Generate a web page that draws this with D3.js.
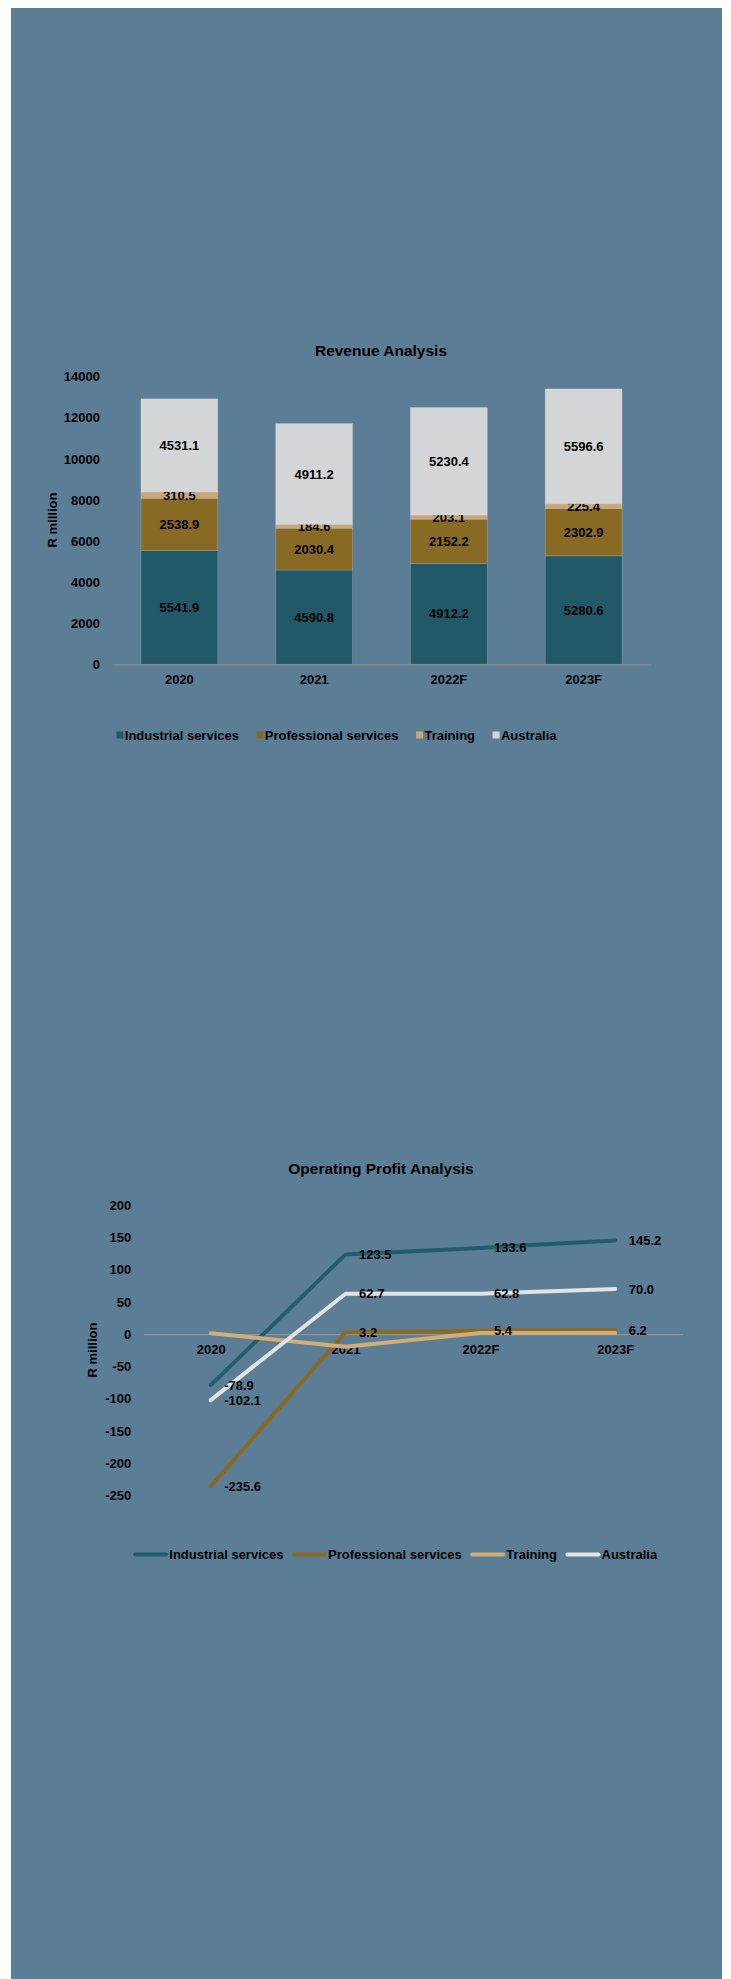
<!DOCTYPE html>
<html>
<head>
<meta charset="utf-8">
<script src="https://cdn.jsdelivr.net/npm/d3@7"></script>
<style>
  body { margin: 0; background: #ffffff; }
  svg text { font-family: "Liberation Sans", Arial, sans-serif; font-weight: bold; fill: #000; }
</style>
</head>
<body>
<div class="page"></div>
<script>

// Data
const years = ["2020", "2021", "2022F", "2023F"];
const seriesNames = ["Industrial services", "Professional services", "Training", "Australia"];

const industrialRevenue   = [5541.9, 4590.8, 4912.2, 5280.6];
const professionalRevenue = [2538.9, 2030.4, 2152.2, 2302.9];
const trainingRevenue     = [310.5, 184.6, 203.1, 225.4];
const australiaRevenue    = [4531.1, 4911.2, 5230.4, 5596.6];

const industrialProfit   = [-78.9, 123.5, 133.6, 145.2];
const professionalProfit = [-235.6, 3.2, 5.4, 6.2];
const trainingProfit     = [1.5, -19.5, 2.0, 2.0];   // no labels shown for this series
const australiaProfit    = [-102.1, 62.7, 62.8, 70.0];

const revenueTicks = [0, 2000, 4000, 6000, 8000, 10000, 12000, 14000];
const profitTicks  = [-250, -200, -150, -100, -50, 0, 50, 100, 150, 200];

const barColors  = ["#215968", "#896a24", "#c8a67a", "#d4d5d7"];
const lineColors = ["#215e6c", "#8a6a23", "#d1ae78", "#e3e3e3"];

//plain hyphen for negatives, like the original
const plainNum = d => String(d);

document.addEventListener('DOMContentLoaded', () => {

  const width = 731;
  const height = 1979;

  const svg = d3.select('.page')
    .append('svg')
    .attr('width', width)
    .attr('height', height);

  //Blue panel behind both charts
  svg.append('rect')
    .attr('x', 11)
    .attr('y', 8)
    .attr('width', 711)
    .attr('height', height - 8)
    .attr('fill', '#5b7e96');

  createRevenueChart(svg);
  createProfitChart(svg);
});


function createRevenueChart(svg){

  const revenue = [industrialRevenue, professionalRevenue, trainingRevenue, australiaRevenue];

  //one row per year, used by d3.stack
  const rows = years.map((y, i) => {
    const row = {year: y};
    seriesNames.forEach((s, k) => { row[s] = revenue[k][i]; });
    return row;
  });

  const stacked = d3.stack().keys(seriesNames)(rows);

  const xScale = d3.scaleBand()
    .domain(years)
    .range([112, 651])
    .paddingInner(0.43)
    .paddingOuter(0.215);

  const yScale = d3.scaleLinear()
    .domain([0, 14000])
    .range([664.3, 376.7]);

  //Title
  svg.append('text')
    .attr('x', 381)
    .attr('y', 356)
    .attr('text-anchor', 'middle')
    .attr('font-size', 15.5)
    .text('Revenue Analysis');

  //Y axis
  const yAxis = svg.append('g')
    .attr('transform', 'translate(112,0)')
    .call(d3.axisLeft(yScale).tickValues(revenueTicks).tickSize(0).tickPadding(12).tickFormat(plainNum));
  yAxis.select('.domain').remove();
  yAxis.selectAll('text').attr('font-size', 13).attr('font-family', null).attr('fill', null);

  svg.append('text')
    .attr('transform', 'rotate(-90)')
    .attr('x', -520)
    .attr('y', 57)
    .attr('text-anchor', 'middle')
    .attr('font-size', 13)
    .text('R million');

  //Bars
  const layers = svg.selectAll('.layer')
    .data(stacked)
    .enter()
    .append('g')
    .attr('class', 'layer')
    .attr('fill', (d, i) => barColors[i]);

  layers.selectAll('rect')
    .data(d => d)
    .enter()
    .append('rect')
    .attr('x', d => xScale(d.data.year))
    .attr('y', d => yScale(d[1]))
    .attr('width', xScale.bandwidth())
    .attr('height', d => yScale(d[0]) - yScale(d[1]))
    .attr('stroke', 'rgba(255,255,255,0.22)')
    .attr('stroke-width', 0.8);

  //Data labels in the middle of each segment
  layers.selectAll('.bar_label')
    .data(d => d)
    .enter()
    .append('text')
    .attr('class', 'bar_label')
    .attr('x', d => xScale(d.data.year) + xScale.bandwidth() / 2)
    .attr('y', d => yScale((d[0] + d[1]) / 2))
    .attr('dy', '0.35em')
    .attr('text-anchor', 'middle')
    .attr('font-size', 13)
    .text(d => (d[1] - d[0]).toFixed(1));

  //X axis (baseline + labels)
  const xAxis = svg.append('g')
    .attr('transform', 'translate(0,664.3)')
    .call(d3.axisBottom(xScale).tickSize(0).tickPadding(10).tickSizeOuter(0));
  xAxis.select('.domain').attr('stroke', '#8c8c8c').attr('stroke-width', 1.2);
  xAxis.selectAll('text').attr('font-size', 13).attr('font-family', null).attr('fill', null);

  //Legend
  const legend = svg.append('g').attr('transform', 'translate(116.4,735)');
  let lx = 0;
  seriesNames.forEach((name, i) => {
    legend.append('rect')
      .attr('x', lx)
      .attr('y', -3.5)
      .attr('width', 7)
      .attr('height', 7)
      .attr('fill', barColors[i]);
    const t = legend.append('text')
      .attr('x', lx + 8.4)
      .attr('dy', '0.35em')
      .attr('font-size', 13)
      .text(name);
    lx += 8.4 + t.node().getComputedTextLength() + 17.5;
  });
}


function createProfitChart(svg){

  const profit = [industrialProfit, professionalProfit, trainingProfit, australiaProfit];
  const showLabels = [true, true, false, true];

  const xScale = d3.scalePoint()
    .domain(years)
    .range([143.3, 682.7])
    .padding(0.5);

  const yScale = d3.scaleLinear()
    .domain([-250, 200])
    .range([1495.7, 1205]);

  //Title
  svg.append('text')
    .attr('x', 381)
    .attr('y', 1174)
    .attr('text-anchor', 'middle')
    .attr('font-size', 15.5)
    .text('Operating Profit Analysis');

  //Y axis
  const yAxis = svg.append('g')
    .attr('transform', 'translate(143.3,0)')
    .call(d3.axisLeft(yScale).tickValues(profitTicks).tickSize(0).tickPadding(12).tickFormat(plainNum));
  yAxis.select('.domain').remove();
  yAxis.selectAll('text').attr('font-size', 13).attr('font-family', null).attr('fill', null);

  svg.append('text')
    .attr('transform', 'rotate(-90)')
    .attr('x', -1350)
    .attr('y', 97)
    .attr('text-anchor', 'middle')
    .attr('font-size', 13)
    .text('R million');

  //Zero line with category labels just below it
  const xAxis = svg.append('g')
    .attr('transform', `translate(0,${yScale(0)})`)
    .call(d3.axisBottom(xScale).tickSize(0).tickPadding(11).tickSizeOuter(0));
  xAxis.select('.domain').attr('stroke', '#a0968c').attr('stroke-width', 1);
  xAxis.selectAll('text').attr('font-size', 13).attr('font-family', null).attr('fill', null);

  const line = d3.line()
    .x((d, i) => xScale(years[i]))
    .y(d => yScale(d));

  profit.forEach((values, k) => {
    svg.append('path')
      .attr('class', 'line_profit')
      .attr('d', line(values))
      .attr('fill', 'none')
      .attr('stroke', lineColors[k])
      .attr('stroke-width', 4)
      .attr('stroke-linecap', 'round')
      .attr('stroke-linejoin', 'round');
  });

  //Labels to the right of each point
  profit.forEach((values, k) => {
    if(!showLabels[k]) return;
    svg.selectAll('.label_' + k)
      .data(values)
      .enter()
      .append('text')
      .attr('class', 'label_' + k)
      .attr('x', (d, i) => xScale(years[i]) + 13.5)
      .attr('y', d => yScale(d))
      .attr('dy', '0.35em')
      .attr('font-size', 13)
      .text(d => d.toFixed(1));
  });

  //Legend
  const legend = svg.append('g').attr('transform', 'translate(133.7,1554.5)');
  let lx = 0;
  seriesNames.forEach((name, i) => {
    legend.append('line')
      .attr('x1', lx + 1.5)
      .attr('x2', lx + 32.5)
      .attr('stroke', lineColors[i])
      .attr('stroke-width', 4)
      .attr('stroke-linecap', 'round');
    const t = legend.append('text')
      .attr('x', lx + 35.6)
      .attr('dy', '0.35em')
      .attr('font-size', 13)
      .text(name);
    lx += 35.6 + t.node().getComputedTextLength() + 9;
  });
}
</script>
</body>
</html>
